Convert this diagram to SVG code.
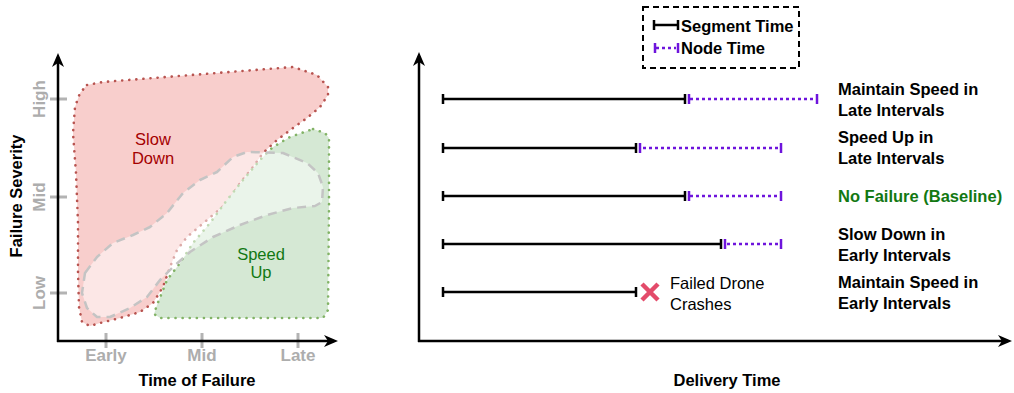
<svg xmlns="http://www.w3.org/2000/svg" width="1014" height="393" viewBox="0 0 1014 393">
<style>
text{font-family:"Liberation Sans",Arial,sans-serif;font-size:16.5px}
.b{font-weight:bold}
.tick{stroke:#b3b3b3;stroke-width:3;fill:none}
.tl{font-weight:bold;fill:#adadad;font-size:17px}
.axis{stroke:#000;stroke-width:2.5;fill:none}
.seg{stroke:#000;stroke-width:2.5;fill:none}
.node{stroke:#6e14dc;stroke-width:2.5;fill:none;stroke-dasharray:3 3}
.ncap{stroke:#6e14dc;stroke-width:2.5;fill:none}
.dots{stroke-width:2.6;stroke-dasharray:0.1 7;stroke-linecap:round;stroke-linejoin:round}
</style>
<defs>
<marker id="arr" viewBox="0 0 14 12" refX="10" refY="6" markerWidth="14" markerHeight="12" markerUnits="userSpaceOnUse" orient="auto">
<path d="M0,0 L14,6 L0,12 L4,6 z" fill="#000"/>
</marker>
</defs>
<rect width="1014" height="393" fill="#fff"/>

<g id="region-slow">
<path class="dots" d="M87,85 L103,82 L293,67 L317,75 L328,87 L328,95 L320,107 L307,118 L293,128 L277,140 L263,153 L253,167 L240,183 L227,203 L207,220 L187,237 L177,250 L170,267 L163,287 L153,303 L140,312 L120,318 L100,323 L90,326 L82,322 L79,307 L78,273 L78,223 L76,173 L73,133 L75,107 L80,93 Z" fill="#f8cecc" stroke="#b85450"/>
</g>
<g id="region-speed">
<path class="dots" d="M313,129 L325,133 L329,138 L329,207 L328,310 L323,318 L233,318 L160,318 L154,314 L157,305 L167,280 L180,263 L193,243 L210,223 L227,200 L243,180 L260,160 L273,147 L290,137 Z" fill="#d5e8d4" stroke="#82b366"/>
</g>
<g id="region-overlap">
<path d="M85,273 L97,257 L113,243 L133,235 L150,227 L167,213 L183,193 L200,180 L217,172 L233,157 L247,152 L283,153 L307,163 L318,173 L323,187 L322,202 L315,206 L293,208 L267,215 L240,225 L213,237 L190,252 L173,267 L160,280 L147,297 L130,308 L110,317 L97,317 L87,308 L82,293 Z" fill="#ffffff" fill-opacity="0.5" stroke="#c4c4c4" stroke-width="2.5" stroke-dasharray="9 6" stroke-linejoin="round"/>
</g>
<g id="label-slow">
<text x="153" y="145" text-anchor="middle" fill="#a40000">Slow</text>
<text x="153" y="164" text-anchor="middle" fill="#a40000">Down</text>
</g>
<g id="label-speed">
<text x="261" y="260" text-anchor="middle" fill="#127812">Speed</text>
<text x="261" y="278" text-anchor="middle" fill="#127812">Up</text>
</g>

<g id="left-ticks">
<line class="tick" x1="50" y1="99" x2="67" y2="99"/>
<line class="tick" x1="50" y1="197" x2="67" y2="197"/>
<line class="tick" x1="50" y1="293" x2="67" y2="293"/>
<line class="tick" x1="106" y1="333" x2="106" y2="348"/>
<line class="tick" x1="202" y1="333" x2="202" y2="348"/>
<line class="tick" x1="298" y1="333" x2="298" y2="348"/>
<text class="tl" transform="translate(45,99) rotate(-90)" text-anchor="middle">High</text>
<text class="tl" transform="translate(45,197) rotate(-90)" text-anchor="middle">Mid</text>
<text class="tl" transform="translate(45,293) rotate(-90)" text-anchor="middle">Low</text>
<text class="tl" x="106" y="361" text-anchor="middle">Early</text>
<text class="tl" x="202" y="361" text-anchor="middle">Mid</text>
<text class="tl" x="298" y="361" text-anchor="middle">Late</text>
<text class="b" transform="translate(22,196) rotate(-90)" text-anchor="middle">Failure Severity</text>
<text class="b" x="197" y="386" text-anchor="middle">Time of Failure</text>
</g>

<g id="connectors">
<line class="axis" x1="58" y1="342" x2="58" y2="57" marker-end="url(#arr)"/>
<line class="axis" x1="57" y1="341" x2="334" y2="341" marker-end="url(#arr)"/>
<line class="axis" x1="419" y1="342" x2="419" y2="56" marker-end="url(#arr)"/>
<line class="axis" x1="418" y1="341" x2="1008" y2="341" marker-end="url(#arr)"/>
</g>
<text class="b" x="727" y="386" text-anchor="middle">Delivery Time</text>

<g id="legend">
<rect x="643" y="7" width="156" height="61" fill="none" stroke="#000" stroke-width="2" stroke-dasharray="6 4"/>
<line class="seg" x1="654" y1="25" x2="678" y2="25"/>
<line class="seg" x1="654" y1="20" x2="654" y2="30"/>
<line class="seg" x1="678" y1="20" x2="678" y2="30"/>
<text class="b" x="681" y="32">Segment Time</text>
<line class="node" x1="656" y1="48" x2="676" y2="48"/>
<line class="ncap" x1="655" y1="43" x2="655" y2="53"/>
<line class="ncap" x1="678" y1="43" x2="678" y2="53"/>
<text class="b" x="681" y="54">Node Time</text>
</g>

<g id="row1">
<line class="seg" x1="443" y1="99" x2="685" y2="99"/>
<line class="seg" x1="443" y1="94" x2="443" y2="104"/>
<line class="seg" x1="685" y1="94" x2="685" y2="104"/>
<line class="node" x1="690" y1="99" x2="816" y2="99"/>
<line class="ncap" x1="689" y1="94" x2="689" y2="104"/>
<line class="ncap" x1="817" y1="94" x2="817" y2="104"/>
<text class="b" x="838" y="95">Maintain Speed in</text>
<text class="b" x="838" y="116">Late Intervals</text>
</g>
<g id="row2">
<line class="seg" x1="443" y1="148" x2="636" y2="148"/>
<line class="seg" x1="443" y1="143" x2="443" y2="153"/>
<line class="seg" x1="636" y1="143" x2="636" y2="153"/>
<line class="node" x1="643" y1="148" x2="780" y2="148"/>
<line class="ncap" x1="640" y1="143" x2="640" y2="153"/>
<line class="ncap" x1="781" y1="143" x2="781" y2="153"/>
<text class="b" x="838" y="143">Speed Up in</text>
<text class="b" x="838" y="164">Late Intervals</text>
</g>
<g id="row3">
<line class="seg" x1="443" y1="196" x2="685" y2="196"/>
<line class="seg" x1="443" y1="191" x2="443" y2="201"/>
<line class="seg" x1="685" y1="191" x2="685" y2="201"/>
<line class="node" x1="690" y1="196" x2="780" y2="196"/>
<line class="ncap" x1="689" y1="191" x2="689" y2="201"/>
<line class="ncap" x1="781" y1="191" x2="781" y2="201"/>
<text class="b" x="838" y="202" fill="#127812">No Failure (Baseline)</text>
</g>
<g id="row4">
<line class="seg" x1="443" y1="244" x2="721" y2="244"/>
<line class="seg" x1="443" y1="239" x2="443" y2="249"/>
<line class="seg" x1="721" y1="239" x2="721" y2="249"/>
<line class="node" x1="727" y1="244" x2="780" y2="244"/>
<line class="ncap" x1="725" y1="239" x2="725" y2="249"/>
<line class="ncap" x1="781" y1="239" x2="781" y2="249"/>
<text class="b" x="838" y="240">Slow Down in</text>
<text class="b" x="838" y="261">Early Intervals</text>
</g>
<g id="row5">
<line class="seg" x1="443" y1="292" x2="636" y2="292"/>
<line class="seg" x1="443" y1="287" x2="443" y2="297"/>
<line class="seg" x1="636" y1="287" x2="636" y2="297"/>
<path d="M642,284 L658,300 M658,284 L642,300" stroke="#e34b6a" stroke-width="4.5" fill="none"/>
<text x="670" y="289">Failed Drone</text>
<text x="670" y="310">Crashes</text>
<text class="b" x="838" y="288">Maintain Speed in</text>
<text class="b" x="838" y="309">Early Intervals</text>
</g>
</svg>
